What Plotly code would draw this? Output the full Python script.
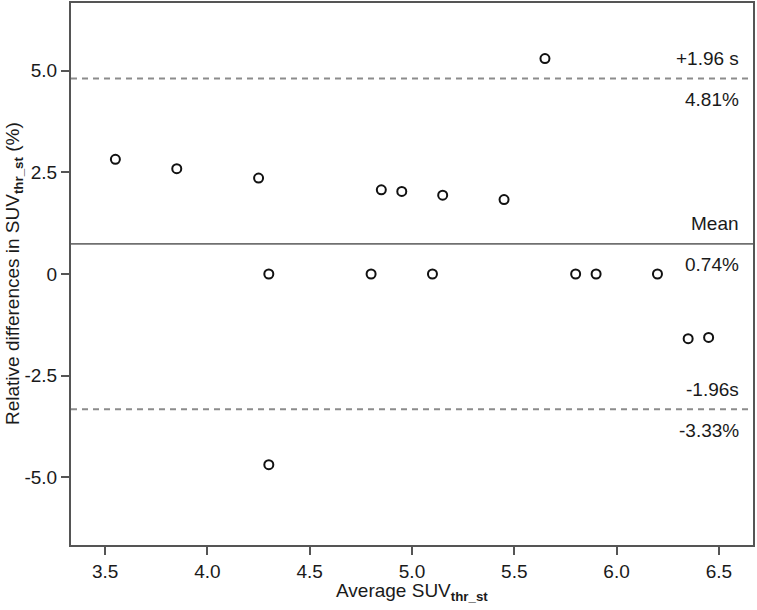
import plotly.graph_objects as go

# Bland-Altman style plot: average vs relative difference (%)
avg_suv = [3.55, 3.85, 4.25, 4.30, 4.30, 4.80, 4.85, 4.95, 5.10, 5.15,
           5.45, 5.65, 5.80, 5.90, 6.20, 6.35, 6.45]
rel_diff = [2.82, 2.59, 2.36, 0.0, -4.69, 0.0, 2.07, 2.03, 0.0, 1.94,
            1.83, 5.30, 0.0, 0.0, 0.0, -1.59, -1.56]

# reference lines: value, label above, label below, dash style
line_values = [4.81, 0.74, -3.33]
line_top_labels = ["+1.96 s", "Mean", "-1.96s"]
line_bottom_labels = ["4.81%", "0.74%", "-3.33%"]
line_dashes = ["dash", "solid", "dash"]

x_ticks = [3.5, 4.0, 4.5, 5.0, 5.5, 6.0, 6.5]
x_ticktext = ["3.5", "4.0", "4.5", "5.0", "5.5", "6.0", "6.5"]
y_ticks = [5.0, 2.5, 0.0, -2.5, -5.0]
y_ticktext = ["5.0", "2.5", "0", "-2.5", "-5.0"]

x_title = "Average SUV<sub><b>thr_st</b></sub>"
y_title = "Relative differences in SUV<sub><b>thr_st</b></sub> (%)"

FONT = "Liberation Sans, Arial, sans-serif"
TEXT_COLOR = "#1a1a1a"
AXIS_COLOR = "#555555"
DASH_COLOR = "#8c8c8c"
MEAN_COLOR = "#707070"

fig = go.Figure()

for val, dash in zip(line_values, line_dashes):
    fig.add_hline(
        y=val,
        line={"color": DASH_COLOR if dash == "dash" else MEAN_COLOR,
              "width": 2 if dash == "dash" else 1.6,
              "dash": "6px,5px" if dash == "dash" else "solid"},
        layer="below",
    )

fig.add_trace(
    go.Scatter(
        x=avg_suv,
        y=rel_diff,
        mode="markers",
        marker={"symbol": "circle-open", "size": 9, "color": "#111111",
                "line": {"width": 2, "color": "#111111"}},
        showlegend=False,
        hoverinfo="x+y",
    )
)

for val, top, bottom in zip(line_values, line_top_labels, line_bottom_labels):
    for text, shift in ((top, 20), (bottom, -21)):
        fig.add_annotation(
            x=0.982, xref="paper", xanchor="right",
            y=val, yref="y", yanchor="middle", yshift=shift,
            text=text, showarrow=False,
            font={"size": 19, "color": TEXT_COLOR, "family": FONT},
        )

# axis titles placed by hand so the plot area keeps its fixed margins
fig.add_annotation(
    x=0.5, xref="paper", xanchor="center",
    y=0, yref="paper", yanchor="middle", yshift=-47,
    text=x_title, showarrow=False,
    font={"size": 19, "color": TEXT_COLOR, "family": FONT},
)
fig.add_annotation(
    x=0, xref="paper", xanchor="center", xshift=-57,
    y=0.5, yref="paper", yanchor="middle",
    text=y_title, textangle=-90, showarrow=False,
    font={"size": 19, "color": TEXT_COLOR, "family": FONT},
)

axis_style = dict(
    ticks="outside",
    ticklen=8,
    tickwidth=2,
    tickcolor=AXIS_COLOR,
    tickfont={"size": 19, "color": TEXT_COLOR},
    showline=True,
    linecolor=AXIS_COLOR,
    linewidth=2,
    mirror=True,
    showgrid=False,
    zeroline=False,
    automargin=False,
)

fig.update_layout(
    width=757,
    height=610,
    paper_bgcolor="white",
    plot_bgcolor="white",
    font={"family": FONT, "color": TEXT_COLOR},
    margin={"l": 71, "r": 4, "t": 3, "b": 65},
    showlegend=False,
)
fig.update_xaxes(range=[3.333, 6.667], tickvals=x_ticks, ticktext=x_ticktext, **axis_style)
fig.update_yaxes(range=[-6.667, 6.667], tickvals=y_ticks, ticktext=y_ticktext, **axis_style)

# drop the browser's default body margin so the figure sits at the window corner
fig.write_html(
    "out.html",
    config={"displayModeBar": False},
    post_script="document.body.style.margin = '0';",
)
